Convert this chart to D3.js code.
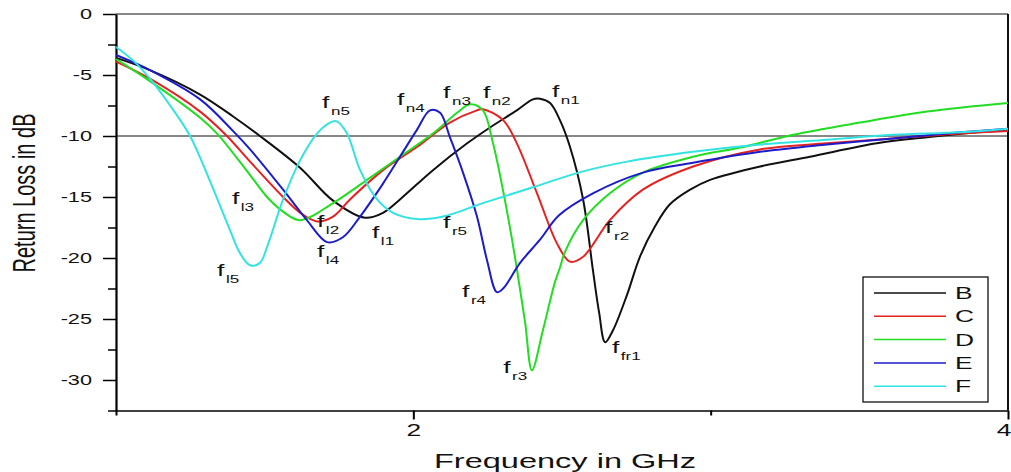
<!DOCTYPE html>
<html>
<head>
<meta charset="utf-8">
<script src="https://cdn.jsdelivr.net/npm/d3@7"></script>
<style>
body { margin: 0; background: #fff; }
svg { display: block; }
text { font-family: "Liberation Sans", Arial, sans-serif; fill: #111; }
</style>
</head>
<body>
<script>
// return loss curves, [frequency GHz, dB]
var seriesB = [[1.000,-3.6],[1.114,-4.6],[1.283,-6.6],[1.394,-8.4],[1.484,-10.0],[1.619,-12.6],[1.730,-15.3],
  [1.837,-16.7],[1.898,-16.3],[1.955,-15.2],[2.066,-12.8],[2.181,-10.6],[2.258,-9.3],[2.348,-7.9],[2.402,-7.0],
  [2.426,-6.95],[2.460,-7.3],[2.493,-8.7],[2.527,-10.9],[2.571,-15.2],[2.604,-21.0],[2.625,-24.5],[2.645,-26.9],
  [2.672,-25.9],[2.719,-23.0],[2.762,-19.9],[2.813,-17.4],[2.863,-15.6],[2.931,-14.4],[2.998,-13.6],[3.166,-12.5],
  [3.334,-11.7],[3.559,-10.6],[3.728,-10.1],[3.896,-9.7],[4.000,-9.5]];
var seriesC = [[1.000,-3.9],[1.114,-5.3],[1.283,-8.0],[1.373,-10.0],[1.451,-12.1],[1.562,-15.0],[1.620,-16.3],
  [1.676,-17.0],[1.730,-16.6],[1.787,-15.2],[1.898,-12.8],[2.012,-10.9],[2.123,-8.9],[2.214,-7.9],[2.234,-7.8],
  [2.302,-8.7],[2.348,-10.6],[2.416,-14.7],[2.483,-18.8],[2.527,-20.3],[2.571,-19.9],[2.661,-16.9],[2.772,-14.4],
  [2.941,-12.5],[3.166,-11.1],[3.391,-10.6],[3.613,-10.2],[3.839,-9.8],[4.000,-9.6]];
var seriesD = [[1.000,-3.7],[1.114,-5.5],[1.283,-8.5],[1.340,-9.8],[1.451,-13.2],[1.508,-15.0],[1.562,-16.2],
  [1.619,-16.9],[1.730,-15.5],[1.844,-13.6],[1.955,-11.7],[2.066,-9.8],[2.147,-8.1],[2.191,-7.4],[2.234,-7.9],
  [2.268,-10.6],[2.302,-14.5],[2.332,-18.5],[2.352,-21.5],[2.376,-25.3],[2.399,-29.2],[2.436,-25.9],[2.476,-22.0],
  [2.493,-20.8],[2.510,-19.5],[2.571,-16.9],[2.661,-14.7],[2.772,-13.0],[2.941,-11.7],[3.109,-10.9],[3.277,-9.9],
  [3.502,-8.9],[3.728,-8.0],[4.000,-7.3]];
var seriesE = [[1.000,-3.36],[1.114,-4.6],[1.283,-7.0],[1.394,-9.6],[1.451,-11.1],[1.562,-14.4],[1.642,-16.9],
  [1.710,-18.7],[1.763,-18.3],[1.821,-16.6],[1.898,-13.9],[1.955,-11.7],[2.012,-9.5],[2.056,-7.9],
  [2.090,-8.1],[2.123,-10.1],[2.167,-13.0],[2.214,-16.6],[2.248,-20.2],[2.281,-22.8],[2.302,-22.5],[2.359,-20.4],
  [2.426,-18.5],[2.490,-16.5],[2.604,-14.7],[2.772,-13.0],[2.941,-12.2],[3.166,-11.3],[3.391,-10.7],[3.613,-10.2],
  [3.839,-9.7],[4.000,-9.4]];
var seriesF = [[1.000,-2.7],[1.057,-3.8],[1.114,-5.3],[1.182,-7.5],[1.249,-10.0],[1.316,-13.7],[1.383,-17.7],
  [1.417,-19.6],[1.451,-20.6],[1.484,-20.4],[1.508,-19.1],[1.562,-15.2],[1.619,-12.0],[1.676,-9.8],[1.720,-8.9],
  [1.743,-8.8],[1.777,-9.8],[1.821,-12.8],[1.878,-15.2],[1.932,-16.3],[2.012,-16.8],[2.100,-16.6],[2.234,-15.5],
  [2.402,-14.2],[2.571,-12.9],[2.719,-12.1],[2.941,-11.3],[3.166,-10.7],[3.391,-10.3],[3.613,-9.9],[3.839,-9.7],
  [4.000,-9.4]];

var seriesNames = ['B', 'C', 'D', 'E', 'F'];
var seriesColors = ['#111111', '#e52222', '#22dd22', '#1c1cc8', '#33e3e3'];
var allSeries = [seriesB, seriesC, seriesD, seriesE, seriesF];

var yMajor = [0, -5, -10, -15, -20, -25, -30];
var yMinor = [-2.5, -7.5, -12.5, -17.5, -22.5, -27.5, -32.5];
var xMajor = [2, 4];
var xMinor = [1, 3];

// point labels: main letter, subscript, position (GHz, dB)
var labels = [
  ['f', 'n5', 1.693, -7.7], ['f', 'n4', 1.945, -7.46], ['f', 'n3', 2.100, -6.89], ['f', 'n2', 2.234, -6.89],
  ['f', 'n1', 2.466, -6.8], ['f', 'l3', 1.390, -15.57], ['f', 'l2', 1.676, -17.46], ['f', 'l1', 1.861, -18.36],
  ['f', 'l4', 1.676, -19.92], ['f', 'l5', 1.340, -21.48], ['f', 'r5', 2.100, -17.54], ['f', 'r2', 2.645, -17.95],
  ['f', 'r4', 2.164, -23.2], ['f', 'r3', 2.302, -29.43], ['f', 'fr1', 2.668, -27.79]
];

var width = 1011,
    height = 472,
    SX = 1.55,   // picture is stretched sideways, so is the text
    x = d3.scaleLinear().domain([1, 4]).range([116, 1008]),
    y = d3.scaleLinear().domain([-32.5, 0]).range([410.5, 14]),
    svg;

function stext(g, px, py, str, size) {
  return g.append('text')
    .attr('transform', 'translate(' + px + ',' + py + ') scale(' + SX + ',1)')
    .attr('font-size', size)
    .text(str);
}

function init() {
  svg = d3.select('body').append('svg')
    .attr('width', width)
    .attr('height', height);
}

function axes() {
  var gl = svg.append('g').attr('transform', 'translate(116,0)');
  gl.call(d3.axisLeft(y).tickValues(yMajor).tickSize(13).tickSizeOuter(0).tickFormat(function (d) { return String(d); }));
  gl.attr('font-size', null).attr('font-family', null);
  gl.select('.domain').attr('stroke-width', 2.2);
  gl.selectAll('.tick line').attr('stroke-width', 1.5);
  gl.selectAll('.tick text')
    .attr('x', -24 / SX)
    .attr('transform', 'scale(' + SX + ',1)')
    .attr('font-size', 14)
    .attr('fill', '#111');
  svg.append('g').attr('transform', 'translate(116,0)')
    .call(d3.axisLeft(y).tickValues(yMinor).tickSize(8).tickSizeOuter(0).tickFormat(''))
    .call(function (g) { g.select('.domain').remove(); g.selectAll('line').attr('stroke-width', 1.5); });

  var gb = svg.append('g').attr('transform', 'translate(0,410.5)');
  gb.call(d3.axisBottom(x).tickValues(xMajor).tickSize(9).tickSizeOuter(0).tickFormat(function (d) { return String(d); }));
  gb.attr('font-size', null).attr('font-family', null);
  gb.select('.domain').attr('stroke-width', 1.6);
  gb.selectAll('.tick line').attr('stroke-width', 2);
  gb.selectAll('.tick text')
    .attr('y', 26).attr('dy', null)
    .attr('transform', 'scale(' + SX + ',1)')
    .attr('font-size', 17)
    .attr('fill', '#111')
    .filter(function (d) { return d === 4; })
    .attr('text-anchor', 'end')
    .attr('x', 3 / SX);
  svg.append('g').attr('transform', 'translate(0,410.5)')
    .call(d3.axisBottom(x).tickValues(xMinor).tickSize(5).tickSizeOuter(0).tickFormat(''))
    .call(function (g) { g.select('.domain').remove(); g.selectAll('line').attr('stroke-width', 2); });

  // top and right frame
  svg.append('line').attr('x1', 116).attr('x2', 1008).attr('y1', y(0)).attr('y2', y(0))
    .attr('stroke', '#111').attr('stroke-width', 1.2);
  svg.append('line').attr('x1', 1008).attr('x2', 1008).attr('y1', y(0)).attr('y2', y(-32.5))
    .attr('stroke', '#111').attr('stroke-width', 2);
  // -10 dB reference line
  svg.append('line').attr('x1', 116).attr('x2', 1008).attr('y1', y(-10)).attr('y2', y(-10))
    .attr('stroke', '#111').attr('stroke-width', 1);

  svg.append('text')
    .attr('transform', 'translate(565,468) scale(' + SX + ',1)')
    .attr('text-anchor', 'middle')
    .attr('font-size', 21)
    .text('Frequency in GHz');
  svg.append('text')
    .attr('transform', 'translate(35,193) scale(' + SX + ',1) rotate(-90)')
    .attr('text-anchor', 'middle')
    .attr('font-size', 20)
    .text('Return Loss in dB');
}

function curves() {
  var line = d3.line()
    .x(function (d) { return x(d[0]); })
    .y(function (d) { return y(d[1]); })
    .curve(d3.curveCatmullRom.alpha(0.5));
  svg.selectAll('path.line')
    .data(allSeries)
    .enter()
    .append('path')
    .attr('class', 'line')
    .attr('fill', 'none')
    .attr('stroke', function (d, i) { return seriesColors[i]; })
    .attr('stroke-width', 2)
    .attr('d', line);
}

function annotate() {
  labels.forEach(function (l) {
    var t = svg.append('text')
      .attr('transform', 'translate(' + x(l[2]) + ',' + y(l[3]) + ') scale(' + SX + ',1)')
      .attr('font-size', 17);
    t.append('tspan').text(l[0]);
    t.append('tspan').attr('dx', 1).attr('dy', 7).attr('font-size', 11).text(l[1]);
  });
}

function legend() {
  var g = svg.append('g');
  g.append('rect').attr('x', 863).attr('y', 277).attr('width', 125).attr('height', 125)
    .attr('fill', '#fff').attr('stroke', '#111').attr('stroke-width', 1.3);
  seriesNames.forEach(function (n, i) {
    var ry = 293 + i * 23.3;
    g.append('line').attr('x1', 874).attr('x2', 946).attr('y1', ry).attr('y2', ry)
      .attr('stroke', seriesColors[i]).attr('stroke-width', 1.5);
    stext(g, 955, ry + 6, n, 17);
  });
}

init();
axes();
curves();
annotate();
legend();
</script>
</body>
</html>
